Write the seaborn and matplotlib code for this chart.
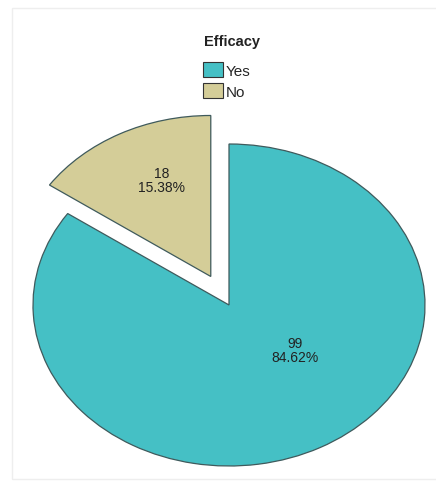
import numpy as np
import seaborn as sns
import matplotlib.pyplot as plt
import matplotlib.patches as mpatches

# data
categories = ['Yes', 'No']
counts = [99, 18]
explode = [0.0, 0.2]
slice_colors = ['#45C0C5', '#D4CD98']

sns.set_theme(style='white')
plt.rcParams['font.family'] = ['Liberation Sans', 'DejaVu Sans']

fig = plt.figure(figsize=(4.36, 4.89), dpi=100)
# axes placed so that the unit pie fills the (stretched) ellipse
ax = fig.add_axes([33 / 436, 22 / 489, 392 / 436, 322 / 489])

wedges, _ = ax.pie(counts, explode=explode, colors=slice_colors, startangle=90,
                   counterclock=False,
                   wedgeprops=dict(edgecolor='#3f5a5c', linewidth=0.9))
for w in wedges:
    w.set_clip_on(False)
ax.set_aspect('auto')
ax.set_xlim(-1, 1)
ax.set_ylim(-1, 1)
ax.axis('off')

# slice labels: count and percent
total = sum(counts)
label_pos = [(0.337, -0.28), (-0.342, 0.776)]
for (x, y), c in zip(label_pos, counts):
    ax.text(x, y, f"{c}\n{c / total * 100:.2f}%", ha='center', va='center',
            fontsize=10, color='#222222', linespacing=1.0)

# legend at the top (title drawn separately to get the wider gap)
fig.text(0.532, 1 - 42 / 489, 'Efficacy', ha='center', va='center',
         fontsize=10.5, fontweight='bold', color='#222222')
handles = [mpatches.Patch(facecolor=col, edgecolor='#333333', linewidth=0.8, label=cat)
           for cat, col in zip(categories, slice_colors)]
leg = fig.legend(handles=handles, loc='upper center',
                 bbox_to_anchor=(0.52, 1 - 54 / 489), frameon=False, fontsize=11,
                 handlelength=1.3, handleheight=1.1, handletextpad=0.15,
                 labelspacing=0.35, borderpad=0.1)

# faint outer border
fig.patches.append(mpatches.Rectangle((12 / 436, 9 / 489), 1, 1 - 18 / 489,
                                      transform=fig.transFigure, fill=False,
                                      edgecolor='#eeeeee', linewidth=1))

fig.savefig('out.png', dpi=100)
